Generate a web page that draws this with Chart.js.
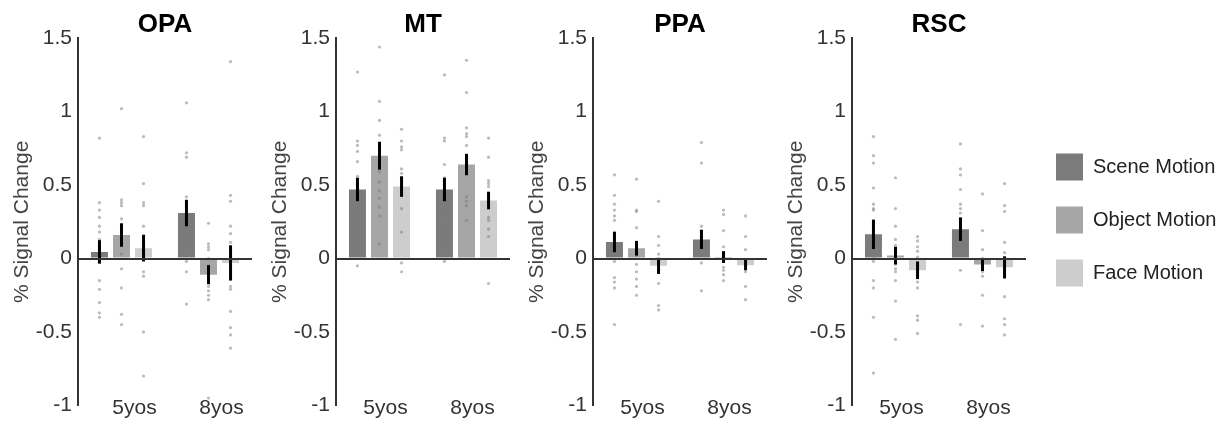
<!DOCTYPE html>
<html>
<head>
<meta charset="utf-8">
<title>% Signal Change by region</title>
<script src="https://cdn.jsdelivr.net/npm/chart.js@4.4.1/dist/chart.umd.min.js"></script>
<style>
  body { margin: 0; background: #fff; }
  .panel { position: absolute; top: 0; }
</style>
</head>
<body>
<div class="panel" style="left:0px"><canvas id="opa" width="258" height="424"></canvas></div>
<div class="panel" style="left:258px"><canvas id="mt" width="258" height="424"></canvas></div>
<div class="panel" style="left:515px"><canvas id="ppa" width="258" height="424"></canvas></div>
<div class="panel" style="left:774px"><canvas id="rsc" width="258" height="424"></canvas></div>
<div class="panel" style="left:1030px; top:20px"><canvas id="legend" width="197" height="400"></canvas></div>
<script>
const ageGroups = ['5yos', '8yos'];
const conditions = ['Scene Motion', 'Object Motion', 'Face Motion'];
const yTicks = [-1, -0.5, 0, 0.5, 1, 1.5];
const conditionColors = ['#7b7b7b', '#a6a6a6', '#cdcdcd'];

// means / error half-lengths per condition: [5yos, 8yos]
const opaMeans = [[0.045, 0.31], [0.16, -0.11], [0.07, -0.03]];
const opaErrors = [[0.08, 0.09], [0.08, 0.065], [0.09, 0.12]];
const mtMeans = [[0.47, 0.47], [0.70, 0.64], [0.49, 0.395]];
const mtErrors = [[0.08, 0.08], [0.095, 0.073], [0.07, 0.06]];
const ppaMeans = [[0.113, 0.13], [0.07, 0.01], [-0.05, -0.045]];
const ppaErrors = [[0.07, 0.065], [0.05, 0.04], [0.055, 0.035]];
const rscMeans = [[0.165, 0.20], [0.02, -0.04], [-0.08, -0.06]];
const rscErrors = [[0.1, 0.08], [0.06, 0.045], [0.06, 0.075]];

// individual subjects per condition: [5yos values, 8yos values]
const opaSubjects = [
    [[0.82, 0.38, 0.33, 0.28, 0.22, 0.18, 0.13, 0.08, 0.04, 0.01, -0.15, -0.21, -0.30, -0.37, -0.40],
     [1.06, 0.72, 0.69, 0.42, 0.36, 0.30, 0.22, 0.15, 0.09, 0.02, -0.02, -0.09, -0.31]],
    [[1.02, 0.40, 0.38, 0.36, 0.27, 0.20, 0.10, 0.03, -0.07, -0.20, -0.38, -0.45],
     [0.24, 0.10, 0.08, 0.06, 0.0, -0.05, -0.19, -0.22, -0.25, -0.28, -0.95]],
    [[0.83, 0.51, 0.38, 0.36, 0.22, 0.16, 0.05, 0.0, -0.09, -0.12, -0.50, -0.80],
     [1.34, 0.43, 0.39, 0.22, 0.17, 0.11, 0.02, -0.19, -0.21, -0.36, -0.47, -0.52, -0.61]]
];
const mtSubjects = [
    [[1.27, 0.80, 0.77, 0.73, 0.66, 0.56, 0.45, 0.41, 0.34, 0.27, 0.20, 0.15, 0.08, 0.02, -0.05],
     [1.25, 0.82, 0.80, 0.64, 0.55, 0.46, 0.41, 0.30, 0.22, 0.17, 0.10, 0.02, -0.02]],
    [[1.44, 1.07, 0.94, 0.84, 0.74, 0.59, 0.52, 0.46, 0.41, 0.35, 0.29, 0.10],
     [1.35, 1.13, 0.89, 0.85, 0.83, 0.77, 0.42, 0.39, 0.36, 0.26]],
    [[0.88, 0.80, 0.76, 0.74, 0.61, 0.58, 0.54, 0.47, 0.34, 0.18, -0.03, -0.09],
     [0.82, 0.69, 0.53, 0.51, 0.49, 0.28, 0.26, 0.20, 0.15, -0.17]]
];
const ppaSubjects = [
    [[0.57, 0.43, 0.37, 0.33, 0.29, 0.26, 0.16, 0.08, 0.03, -0.02, -0.13, -0.16, -0.20, -0.45],
     [0.79, 0.65, 0.22, 0.19, 0.15, 0.12, 0.07, 0.02, -0.03, -0.22]],
    [[0.54, 0.33, 0.32, 0.21, 0.08, 0.02, -0.04, -0.09, -0.14, -0.19, -0.25],
     [0.33, 0.30, 0.19, 0.08, 0.03, -0.06, -0.08, -0.11, -0.15]],
    [[0.39, 0.15, 0.09, 0.03, -0.02, -0.08, -0.17, -0.32, -0.35],
     [0.29, 0.15, 0.06, -0.02, -0.05, -0.09, -0.19, -0.28]]
];
const rscSubjects = [
    [[0.83, 0.70, 0.65, 0.48, 0.37, 0.34, 0.33, 0.20, 0.10, 0.0, -0.02, -0.15, -0.20, -0.40, -0.78],
     [0.78, 0.61, 0.57, 0.47, 0.37, 0.34, 0.31, 0.20, 0.12, 0.02, -0.08, -0.45]],
    [[0.55, 0.34, 0.22, 0.13, 0.09, 0.05, -0.04, -0.07, -0.09, -0.15, -0.29, -0.55],
     [0.44, 0.19, 0.06, -0.03, -0.09, -0.12, -0.25, -0.46]],
    [[0.15, 0.12, 0.08, 0.05, 0.01, -0.05, -0.16, -0.20, -0.39, -0.42, -0.51],
     [0.51, 0.36, 0.32, 0.11, 0.04, -0.02, -0.13, -0.26, -0.41, -0.45, -0.52]]
];

Chart.defaults.font.family = '"Liberation Sans", Arial, Helvetica, sans-serif';
Chart.defaults.animation = false;

// Draw the subject dots and the error bars on top of the bars
const subjectMarks = {
    id: 'subjectMarks',
    afterDatasetsDraw(chart) {
        const ctx = chart.ctx;
        const yScale = chart.scales.y;
        ctx.save();
        ctx.fillStyle = 'rgba(120, 120, 120, 0.5)';
        chart.data.datasets.forEach((ds, i) => {
            chart.getDatasetMeta(i).data.forEach((bar, j) => {
                ds.subjects[j].forEach(v => {
                    ctx.beginPath();
                    ctx.arc(bar.x, yScale.getPixelForValue(v), 1.6, 0, Math.PI * 2);
                    ctx.fill();
                });
            });
        });
        ctx.strokeStyle = '#000';
        ctx.lineWidth = 3;
        chart.data.datasets.forEach((ds, i) => {
            chart.getDatasetMeta(i).data.forEach((bar, j) => {
                const m = ds.data[j];
                const e = ds.errors[j];
                ctx.beginPath();
                ctx.moveTo(bar.x, yScale.getPixelForValue(m + e));
                ctx.lineTo(bar.x, yScale.getPixelForValue(m - e));
                ctx.stroke();
            });
        });
        ctx.restore();
    }
};

function makePanel(id, region, means, errors, subjects, labelShift) {
    const datasets = conditions.map((name, i) => ({
        label: name,
        data: means[i],
        errors: errors[i],
        subjects: subjects[i],
        backgroundColor: conditionColors[i],
        borderWidth: 0,
        categoryPercentage: 0.76,
        barPercentage: 0.77
    }));

    return new Chart(document.getElementById(id), {
        type: 'bar',
        data: { labels: ageGroups, datasets },
        options: {
            responsive: false,
            layout: { padding: { top: 0, right: 6, left: 0, bottom: 0 } },
            plugins: {
                title: {
                    display: true,
                    text: region,
                    fullSize: false,
                    color: '#000',
                    font: { size: 26, weight: 'bold' },
                    padding: { top: 9, bottom: -2 }
                },
                legend: { display: false },
                tooltip: { enabled: false }
            },
            scales: {
                x: {
                    grid: { display: false },
                    border: { display: false },
                    ticks: {
                        color: '#333',
                        font: { size: 21 },
                        mirror: true,   // labels sit level with the -1 tick, not clipped
                        padding: -15,
                        labelOffset: labelShift
                    },
                    afterFit: (scale) => { scale.height = 16; }
                },
                y: {
                    min: -1,
                    max: 1.5,
                    afterBuildTicks: (scale) => { scale.ticks = yTicks.map(v => ({ value: v })); },
                    afterFit: (scale) => { scale.width = 78; },
                    border: { display: true, color: '#333', width: 2, z: 1 },
                    grid: {
                        z: 1,
                        drawTicks: false,
                        lineWidth: 2,
                        color: (c) => (c.tick && c.tick.value === 0 ? '#333' : 'rgba(0,0,0,0)')
                    },
                    ticks: {
                        color: '#333',
                        font: { size: 21 },
                        padding: 6,
                        callback: (v) => String(v)
                    },
                    title: {
                        display: true,
                        text: '% Signal Change',
                        color: '#444',
                        font: { size: 21 },
                        padding: { top: 10, bottom: 0 }
                    }
                }
            }
        },
        plugins: [subjectMarks]
    });
}

makePanel('opa', 'OPA', opaMeans, opaErrors, opaSubjects, 13);
makePanel('mt', 'MT', mtMeans, mtErrors, mtSubjects, 6);
makePanel('ppa', 'PPA', ppaMeans, ppaErrors, ppaSubjects, 6);
makePanel('rsc', 'RSC', rscMeans, rscErrors, rscSubjects, 6);

// Shared legend for the three motion conditions
new Chart(document.getElementById('legend'), {
    type: 'bar',
    data: {
        labels: [],
        datasets: conditions.map((name, i) => ({
            label: name,
            data: [],
            backgroundColor: conditionColors[i],
            borderWidth: 0
        }))
    },
    options: {
        responsive: false,
        scales: { x: { display: false }, y: { display: false } },
        plugins: {
            legend: {
                position: 'chartArea',
                labels: {
                    boxWidth: 27,
                    boxHeight: 27,
                    padding: 26,
                    color: '#222',
                    font: { size: 20 }
                }
            },
            tooltip: { enabled: false }
        }
    }
});
</script>
</body>
</html>
